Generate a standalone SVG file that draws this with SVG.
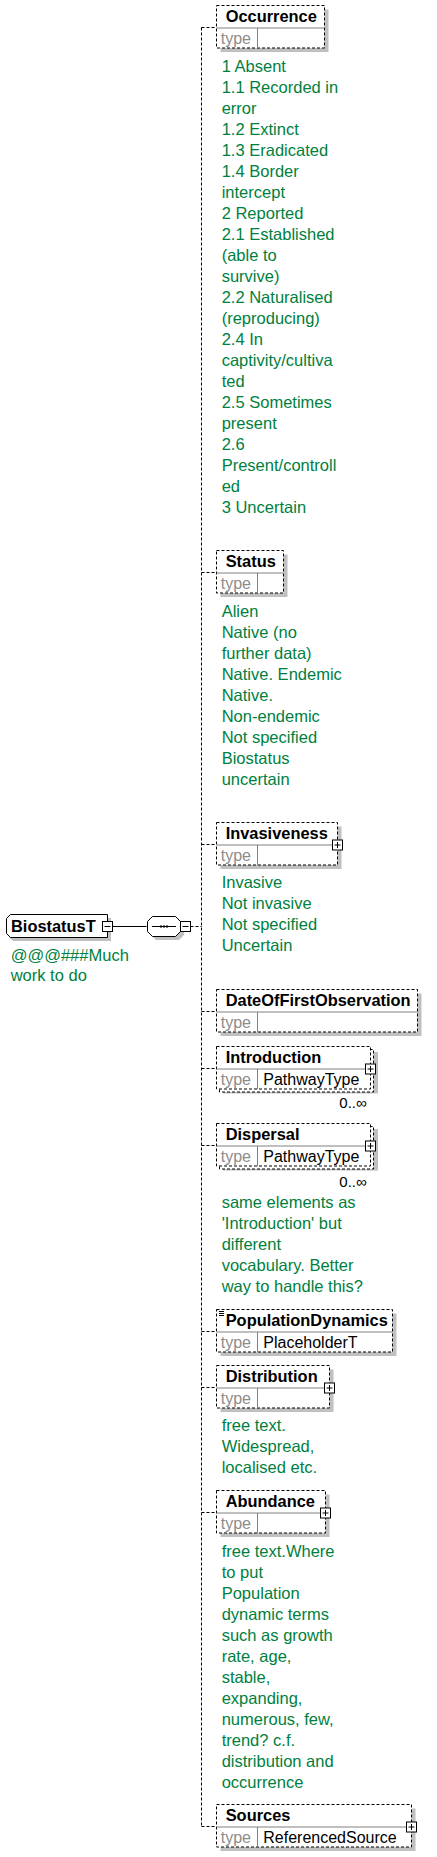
<svg xmlns="http://www.w3.org/2000/svg" width="437" height="1857" viewBox="0 0 437 1857">
<style>
.box{fill:#fff;stroke:#000;stroke-width:1;stroke-dasharray:3 2}
.sbox{fill:#fff;stroke:#000;stroke-width:1}
.sh{fill:#c0c0c0}
.dv{stroke:#808080;stroke-width:1;fill:none}
.name{font-family:"Liberation Sans",Arial,sans-serif;font-size:16.4px;font-weight:bold;fill:#000}
.type{font-family:"Liberation Sans",Arial,sans-serif;font-size:16px;fill:#8c8c8c}
.tval{font-family:"Liberation Sans",Arial,sans-serif;font-size:16px;fill:#000}
.ann{font-family:"Liberation Sans",Arial,sans-serif;font-size:16.5px;fill:#007f40}
.occ{font-family:"Liberation Sans",Arial,sans-serif;font-size:15px;fill:#000;text-anchor:end}
.conn{stroke:#000;stroke-width:1;fill:none;stroke-dasharray:3 2}
.solid{stroke:#000;stroke-width:1;fill:none}
.pm{fill:#fff;stroke:#000;stroke-width:1}
</style>
<defs>
<g id="plus"><rect class="pm" x="-5" y="-5" width="10" height="10"/><path class="solid" d="M-3 0H3M0 -3V3"/></g>
<g id="minus"><rect class="pm" x="-5" y="-5" width="10" height="10"/><path class="solid" d="M-3 0H3"/></g>
</defs>

<g id="connectors">
<path class="solid" d="M112.5 926.5H146.5"/>
<path class="conn" d="M190.5 926.5H201.5"/>
<path class="conn" d="M201.5 27.5V1826.5"/>
<path class="conn" d="M201.5 27.5H216.5"/>
<path class="conn" d="M201.5 572.5H216.5"/>
<path class="conn" d="M201.5 844.5H216.5"/>
<path class="conn" d="M201.5 1011.5H216.5"/>
<path class="conn" d="M201.5 1068.5H216.5"/>
<path class="conn" d="M201.5 1145.5H216.5"/>
<path class="conn" d="M201.5 1331.5H216.5"/>
<path class="conn" d="M201.5 1387.5H216.5"/>
<path class="conn" d="M201.5 1512.5H216.5"/>
<path class="conn" d="M201.5 1826.5H216.5"/>
</g>

<g id="BiostatusT">
<path class="sh" d="M13 918H111V941H13L9 937V922Z"/>
<path class="sbox" d="M10.5 914.5H107.5V937.5H10.5L6.5 933.5V918.5Z"/>
<text class="name" x="11" y="932">BiostatusT</text>
<use href="#minus" x="107.5" y="926.5"/>
<text class="ann" x="10.7" y="960.7">@@@###Much<tspan x="10.7" dy="20.7">work to do</tspan></text>
</g>

<g id="sequence">
<path class="sh" d="M156 920H179L184 925V935L179 940H156L151 935V925Z"/>
<path class="sbox" d="M152.5 916.5H175.5L180.5 921.5V931.5L175.5 936.5H152.5L147.5 931.5V921.5Z"/>
<path class="solid" d="M152 926.5H176"/>
<rect x="160" y="925.5" width="2" height="2" fill="#000"/>
<rect x="163" y="925.5" width="2" height="2" fill="#000"/>
<rect x="166" y="925.5" width="2" height="2" fill="#000"/>
<use href="#minus" x="185.5" y="926.5"/>
</g>

<g id="Occurrence">
<rect class="sh" x="220.5" y="9.5" width="108" height="42.5"/>
<rect class="box" x="216.5" y="5.5" width="108" height="42.5"/>
<path class="dv" d="M216.5 28H324.5M257.5 28V48"/>
<text class="name" x="225.7" y="22.3">Occurrence</text>
<text class="type" x="220.7" y="44.3">type</text>
<text class="ann" x="221.7" y="72">1 Absent<tspan x="221.7" dy="21">1.1 Recorded in</tspan><tspan x="221.7" dy="21">error</tspan><tspan x="221.7" dy="21">1.2 Extinct</tspan><tspan x="221.7" dy="21">1.3 Eradicated</tspan><tspan x="221.7" dy="21">1.4 Border</tspan><tspan x="221.7" dy="21">intercept</tspan><tspan x="221.7" dy="21">2 Reported</tspan><tspan x="221.7" dy="21">2.1 Established</tspan><tspan x="221.7" dy="21">(able to</tspan><tspan x="221.7" dy="21">survive)</tspan><tspan x="221.7" dy="21">2.2 Naturalised</tspan><tspan x="221.7" dy="21">(reproducing)</tspan><tspan x="221.7" dy="21">2.4 In</tspan><tspan x="221.7" dy="21">captivity/cultiva</tspan><tspan x="221.7" dy="21">ted</tspan><tspan x="221.7" dy="21">2.5 Sometimes</tspan><tspan x="221.7" dy="21">present</tspan><tspan x="221.7" dy="21">2.6</tspan><tspan x="221.7" dy="21">Present/controll</tspan><tspan x="221.7" dy="21">ed</tspan><tspan x="221.7" dy="21">3 Uncertain</tspan></text>
</g>

<g id="Status">
<rect class="sh" x="220.5" y="554.5" width="67" height="42.5"/>
<rect class="box" x="216.5" y="550.5" width="67" height="42.5"/>
<path class="dv" d="M216.5 573H283.5M257.5 573V593"/>
<text class="name" x="225.7" y="567.3">Status</text>
<text class="type" x="220.7" y="589.3">type</text>
<text class="ann" x="221.7" y="616.7">Alien<tspan x="221.7" dy="21">Native (no</tspan><tspan x="221.7" dy="21">further data)</tspan><tspan x="221.7" dy="21">Native. Endemic</tspan><tspan x="221.7" dy="21">Native.</tspan><tspan x="221.7" dy="21">Non-endemic</tspan><tspan x="221.7" dy="21">Not specified</tspan><tspan x="221.7" dy="21">Biostatus</tspan><tspan x="221.7" dy="21">uncertain</tspan></text>
</g>

<g id="Invasiveness">
<rect class="sh" x="220.5" y="826.5" width="121" height="42.5"/>
<rect class="box" x="216.5" y="822.5" width="121" height="42.5"/>
<path class="dv" d="M216.5 845H337.5M257.5 845V865"/>
<text class="name" x="225.7" y="839.3">Invasiveness</text>
<text class="type" x="220.7" y="861.3">type</text>
<use href="#plus" x="337.5" y="845"/>
<text class="ann" x="221.7" y="888.3">Invasive<tspan x="221.7" dy="21">Not invasive</tspan><tspan x="221.7" dy="21">Not specified</tspan><tspan x="221.7" dy="21">Uncertain</tspan></text>
</g>

<g id="DateOfFirstObservation">
<rect class="sh" x="220.5" y="993.5" width="201" height="42.5"/>
<rect class="box" x="216.5" y="989.5" width="201" height="42.5"/>
<path class="dv" d="M216.5 1012H417.5M257.5 1012V1032"/>
<text class="name" x="225.7" y="1006.3">DateOfFirstObservation</text>
<text class="type" x="220.7" y="1028.3">type</text>
</g>

<g id="Introduction">
<rect class="sh" x="223" y="1052" width="155" height="41.5"/>
<rect class="box" x="219.5" y="1049.5" width="154" height="42.5"/>
<rect class="box" x="216.5" y="1046.5" width="154" height="42.5"/>
<path class="dv" d="M216.5 1069H370.5M257.5 1069V1089"/>
<text class="name" x="225.7" y="1063.3">Introduction</text>
<text class="type" x="220.7" y="1085.3">type</text>
<text class="tval" x="263.3" y="1085.3">PathwayType</text>
<use href="#plus" x="370.5" y="1069"/>
<text class="occ" x="366.7" y="1108.3">0..∞</text>
</g>

<g id="Dispersal">
<rect class="sh" x="223" y="1129" width="155" height="41.5"/>
<rect class="box" x="219.5" y="1126.5" width="154" height="42.5"/>
<rect class="box" x="216.5" y="1123.5" width="154" height="42.5"/>
<path class="dv" d="M216.5 1146H370.5M257.5 1146V1166"/>
<text class="name" x="225.7" y="1140.3">Dispersal</text>
<text class="type" x="220.7" y="1162.3">type</text>
<text class="tval" x="263.3" y="1162.3">PathwayType</text>
<use href="#plus" x="370.5" y="1146"/>
<text class="occ" x="366.7" y="1187.3">0..∞</text>
<text class="ann" x="221.7" y="1208.3">same elements as<tspan x="221.7" dy="21">'Introduction' but</tspan><tspan x="221.7" dy="21">different</tspan><tspan x="221.7" dy="21">vocabulary. Better</tspan><tspan x="221.7" dy="21">way to handle this?</tspan></text>
</g>

<g id="PopulationDynamics">
<rect class="sh" x="220.5" y="1313.5" width="176" height="42.5"/>
<rect class="box" x="216.5" y="1309.5" width="176" height="42.5"/>
<path class="dv" d="M216.5 1332H392.5M257.5 1332V1352"/>
<path class="solid" d="M219 1311.5H224M219 1313.5H224M219 1315.5H224"/>
<text class="name" x="225.7" y="1326.3">PopulationDynamics</text>
<text class="type" x="220.7" y="1348.3">type</text>
<text class="tval" x="263.3" y="1348.3">PlaceholderT</text>
</g>

<g id="Distribution">
<rect class="sh" x="220.5" y="1369.5" width="113" height="42.5"/>
<rect class="box" x="216.5" y="1365.5" width="113" height="42.5"/>
<path class="dv" d="M216.5 1388H329.5M257.5 1388V1408"/>
<text class="name" x="225.7" y="1382.3">Distribution</text>
<text class="type" x="220.7" y="1404.3">type</text>
<use href="#plus" x="329.5" y="1388"/>
<text class="ann" x="221.7" y="1431">free text.<tspan x="221.7" dy="21">Widespread,</tspan><tspan x="221.7" dy="21">localised etc.</tspan></text>
</g>

<g id="Abundance">
<rect class="sh" x="220.5" y="1494.5" width="109" height="42.5"/>
<rect class="box" x="216.5" y="1490.5" width="109" height="42.5"/>
<path class="dv" d="M216.5 1513H325.5M257.5 1513V1533"/>
<text class="name" x="225.7" y="1507.3">Abundance</text>
<text class="type" x="220.7" y="1529.3">type</text>
<use href="#plus" x="325.5" y="1513"/>
<text class="ann" x="221.7" y="1556.7">free text.Where<tspan x="221.7" dy="21">to put</tspan><tspan x="221.7" dy="21">Population</tspan><tspan x="221.7" dy="21">dynamic terms</tspan><tspan x="221.7" dy="21">such as growth</tspan><tspan x="221.7" dy="21">rate, age,</tspan><tspan x="221.7" dy="21">stable,</tspan><tspan x="221.7" dy="21">expanding,</tspan><tspan x="221.7" dy="21">numerous, few,</tspan><tspan x="221.7" dy="21">trend? c.f.</tspan><tspan x="221.7" dy="21">distribution and</tspan><tspan x="221.7" dy="21">occurrence</tspan></text>
</g>

<g id="Sources">
<rect class="sh" x="220.5" y="1808.5" width="195" height="42.5"/>
<rect class="box" x="216.5" y="1804.5" width="195" height="42.5"/>
<path class="dv" d="M216.5 1827H411.5M257.5 1827V1847"/>
<text class="name" x="225.7" y="1821.3">Sources</text>
<text class="type" x="220.7" y="1843.3">type</text>
<text class="tval" x="263.3" y="1843.3">ReferencedSource</text>
<use href="#plus" x="411.5" y="1827"/>
</g>
</svg>
